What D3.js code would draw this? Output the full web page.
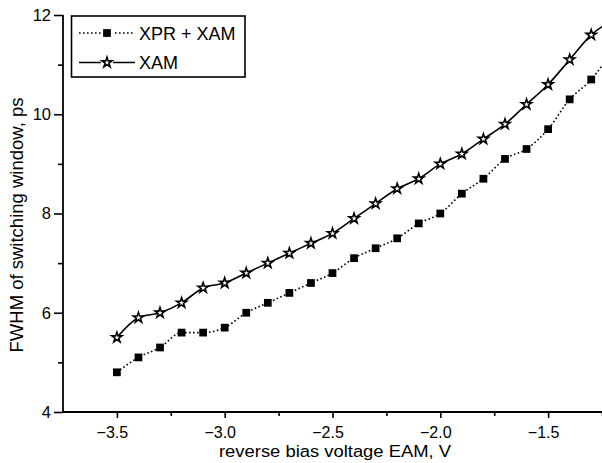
<!DOCTYPE html>
<html><head><meta charset="utf-8">
<script src="https://cdn.jsdelivr.net/npm/d3@7"></script>
<style>
body{margin:0;background:#fff}
svg{display:block}
text{font-family:"Liberation Sans",Arial,Helvetica,sans-serif;fill:#000}
</style>
</head><body>
<svg id="c" width="602" height="463"></svg>
<script>
// ---- data ----
const voltage = [-3.5,-3.4,-3.3,-3.2,-3.1,-3.0,-2.9,-2.8,-2.7,-2.6,-2.5,-2.4,-2.3,-2.2,-2.1,-2.0,-1.9,-1.8,-1.7,-1.6,-1.5,-1.4,-1.3,-1.2];
const xprXam  = [4.8,5.1,5.3,5.6,5.6,5.7,6.0,6.2,6.4,6.6,6.8,7.1,7.3,7.5,7.8,8.0,8.4,8.7,9.1,9.3,9.7,10.3,10.7,11.3];
const xam     = [5.5,5.9,6.0,6.2,6.5,6.6,6.8,7.0,7.2,7.4,7.6,7.9,8.2,8.5,8.7,9.0,9.2,9.5,9.8,10.2,10.6,11.1,11.6,11.9];
const xTicks = [-3.5,-3.0,-2.5,-2.0,-1.5];
const xMinorTicks = [-3.25,-2.75,-2.25,-1.75,-1.25];
const yTicks = [4,6,8,10,12];
const yMinorTicks = [5,7,9,11];
const seriesNames = ["XPR + XAM","XAM"];

// ---- layout ----
const svg = d3.select("#c");
const L = 63, R = 602, T = 15, B = 412;
const x = d3.scaleLinear().domain([-3.75,-1.25]).range([L,R]);
const y = d3.scaleLinear().domain([4,12]).range([B,T]);

svg.append("clipPath").attr("id","clip").append("rect")
  .attr("x",L).attr("y",0).attr("width",R-L).attr("height",B);

// axes
const fmt = d => (d<0?"\u2212":"") + Math.abs(d).toFixed(1);
const gx = svg.append("g").attr("transform",`translate(0,${B})`)
  .call(d3.axisBottom(x).tickValues(xTicks).tickFormat(fmt).tickSize(6).tickSizeOuter(0).tickPadding(0));
gx.select(".domain").remove();
gx.selectAll("text").attr("font-size",16).attr("dx",-5).attr("dy",null).attr("y",26).attr("font-family",null);
gx.selectAll("line").attr("stroke","#000").attr("stroke-width",1.6);
const gxm = svg.append("g").attr("transform",`translate(0,${B})`)
  .call(d3.axisBottom(x).tickValues(xMinorTicks).tickFormat("").tickSize(4).tickSizeOuter(0));
gxm.select(".domain").remove();
gxm.selectAll("line").attr("stroke","#000").attr("stroke-width",1.6);

const gy = svg.append("g").attr("transform",`translate(${L},0)`)
  .call(d3.axisLeft(y).tickValues(yTicks).tickFormat(d3.format("d")).tickSize(9).tickSizeOuter(0).tickPadding(3));
gy.select(".domain").remove();
gy.selectAll("text").attr("font-size",16.5).attr("font-family",null);
gy.selectAll("line").attr("stroke","#000").attr("stroke-width",1.6);
const gym = svg.append("g").attr("transform",`translate(${L},0)`)
  .call(d3.axisLeft(y).tickValues(yMinorTicks).tickFormat("").tickSize(5).tickSizeOuter(0));
gym.select(".domain").remove();
gym.selectAll("line").attr("stroke","#000").attr("stroke-width",1.6);

svg.append("line").attr("x1",L).attr("x2",R).attr("y1",B).attr("y2",B).attr("stroke","#000").attr("stroke-width",1.8);
svg.append("line").attr("x1",L).attr("x2",L).attr("y1",T).attr("y2",B).attr("stroke","#000").attr("stroke-width",1.8);

// axis titles
svg.append("text").attr("x",335).attr("y",457).attr("text-anchor","middle").attr("font-size",16)
  .attr("textLength",232).attr("lengthAdjust","spacingAndGlyphs")
  .text("reverse bias voltage EAM, V");
svg.append("text").attr("transform","translate(23,225) rotate(-90)").attr("text-anchor","middle").attr("font-size",18.5)
  .text("FWHM of switching window, ps");

// lines
const plot = svg.append("g").attr("clip-path","url(#clip)");
const line = d3.line().x((d,i)=>x(voltage[i])).y(d=>y(d)).curve(d3.curveMonotoneX);
plot.append("path").datum(xprXam).attr("d",line).attr("fill","none").attr("stroke","#000")
  .attr("stroke-width",1.6).attr("stroke-dasharray","1.6,2.4");
plot.append("path").datum(xam).attr("d",line).attr("fill","none").attr("stroke","#000")
  .attr("stroke-width",1.6);

const sq = d3.symbol().type(d3.symbolSquare).size(60);
const st = d3.symbol().type(d3.symbolStar).size(32);
plot.selectAll(".sq").data(xprXam).join("path").attr("class","sq")
  .attr("transform",(d,i)=>`translate(${x(voltage[i])},${y(d)})`).attr("d",sq).attr("fill","#000");
plot.selectAll(".st").data(xam).join("path").attr("class","st")
  .attr("transform",(d,i)=>`translate(${x(voltage[i])},${y(d)})`).attr("d",st)
  .attr("fill","#fff").attr("stroke","#000").attr("stroke-width",1.6);

// legend
const lg = svg.append("g");
lg.append("rect").attr("x",71.5).attr("y",16).attr("width",173.5).attr("height",61)
  .attr("fill","#fff").attr("stroke","#000").attr("stroke-width",1.6);
const rows = [{y:33,dash:"1.6,2.4",sym:sq,fill:"#000"},{y:62.5,dash:null,sym:st,fill:"#fff"}];
rows.forEach((r,i)=>{
  lg.append("line").attr("x1",79).attr("x2",135).attr("y1",r.y).attr("y2",r.y)
    .attr("stroke","#000").attr("stroke-width",1.6).attr("stroke-dasharray",r.dash);
  lg.append("rect").attr("x",101).attr("y",r.y-6).attr("width",12).attr("height",12).attr("fill","#fff");
  lg.append("path").attr("transform",`translate(107,${r.y})`).attr("d",r.sym)
    .attr("fill",r.fill).attr("stroke",i===1?"#000":null).attr("stroke-width",1.6);
  lg.append("text").attr("x",139).attr("y",r.y+6.5).attr("font-size",18).text(seriesNames[i]);
});
</script>
</body></html>
